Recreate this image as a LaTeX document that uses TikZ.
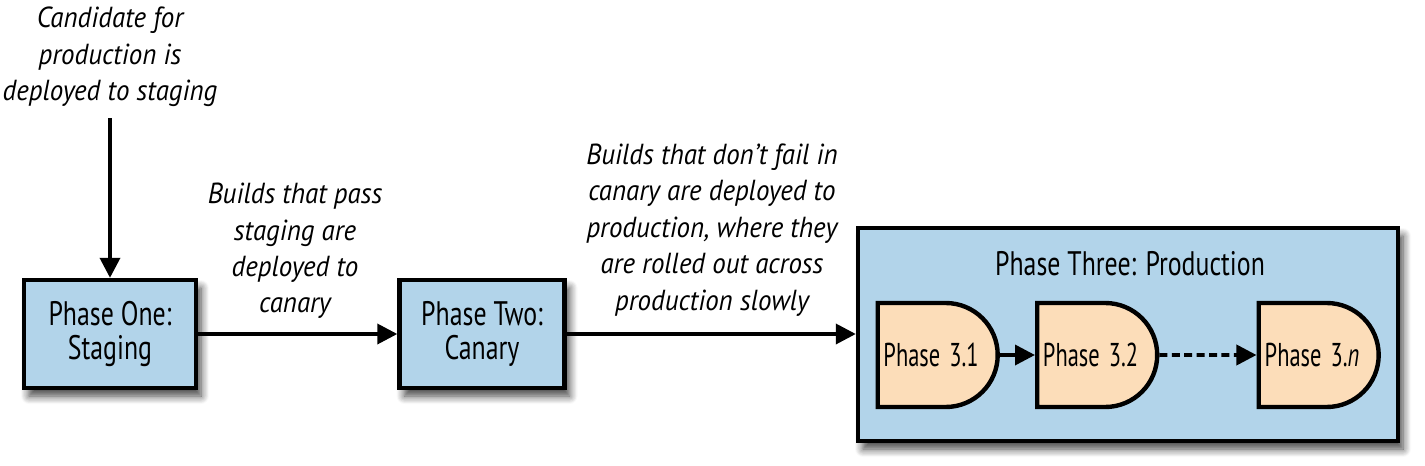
\documentclass[tikz,border=0pt]{standalone}
\usepackage{fontspec}
\setmainfont{PT Sans}[FakeStretch=0.93]
\newfontfamily\boxfont{PT Sans}[FakeStretch=0.76]
\newfontfamily\subfont{PT Sans}[FakeStretch=0.68]
\usetikzlibrary{arrows.meta,shapes.misc,shadows.blur}
\definecolor{boxblue}{HTML}{B2D4EA}
\definecolor{peach}{HTML}{FCDDB9}
\tikzset{
  phasebox/.style={draw=black,line width=2.2pt,fill=boxblue,align=center,
    font=\boxfont\fontsize{17}{16.8}\selectfont,inner sep=0pt,
    blur shadow={shadow xshift=2.5pt,shadow yshift=-4pt,shadow blur steps=8,shadow blur radius=4pt,shadow opacity=75}},
  subphase/.style={draw=black,line width=2.2pt,fill=peach,rounded rectangle,
    rounded rectangle left arc=none,minimum width=60pt,minimum height=52pt,
    inner sep=0pt,font=\subfont\fontsize{16.5}{17}\selectfont},
  note/.style={align=center,font=\itshape\fontsize{14.5}{18.2}\selectfont,inner sep=0pt},
  flow/.style={line width=1.8pt,-{Triangle[length=10pt,width=10pt]}},
}
\begin{document}
\begin{tikzpicture}[x=0.5pt,y=-0.5pt]
\useasboundingbox (0,0) rectangle (1425,466);
\node[note] (t1) at (110,57) {Candidate for\\production is\\deployed to staging};
\node[phasebox,minimum width=86pt,minimum height=54pt] (p1) at (110,334) {Phase One:\\Staging};
\node[phasebox,minimum width=82.5pt,minimum height=54pt] (p2) at (482,334) {Phase Two:\\Canary};
\node[phasebox,minimum width=270pt,minimum height=106.5pt] (p3) at (1128,334.5) {};
\node[font=\boxfont\fontsize{17}{17}\selectfont,inner sep=0pt] (title) at (1130,264) {Phase Three: Production};
\node[note] (t2) at (295,251) {Builds that pass\\staging are\\deployed to\\canary};
\node[note] (t3) at (712,230) {Builds that don’t fail in\\canary are deployed to\\production, where they\\are rolled out across\\production slowly};
\node[subphase] (s1) at (937,355) {\hspace{-6pt}Phase\hspace{4.5pt}3.1};
\node[subphase] (s2) at (1096.5,355) {\hspace{-6pt}Phase\hspace{4.5pt}3.2};
\node[subphase] (s3) at (1318,355) {\hspace{-6pt}Phase\hspace{4.5pt}3.\textit{n}};
\coordinate (c1) at (110,118);
\draw[flow] (c1) -- (p1.north);
\draw[flow] (p1.east) -- (p2.west);
\draw[flow] (p2.east) -- (p2.east -| p3.west);
\draw[flow] (s1) -- (s2);
\draw[flow,dash pattern=on 4pt off 2.2pt] (s2) -- (s3);
\end{tikzpicture}
\end{document}
